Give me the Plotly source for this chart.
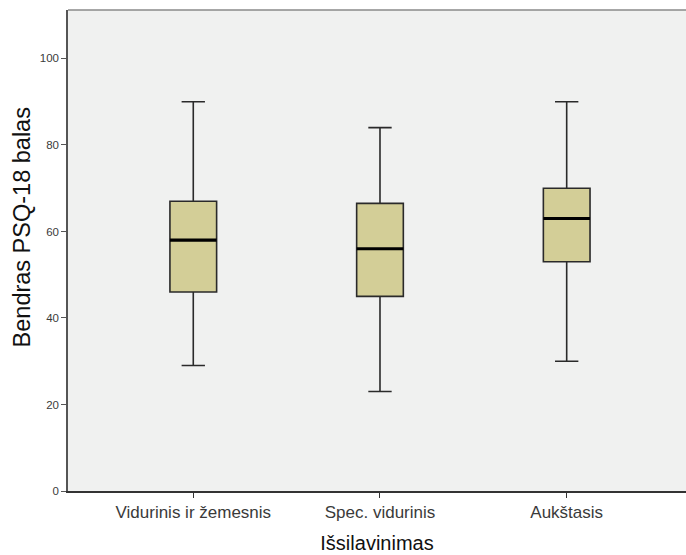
import plotly.graph_objects as go

# Boxplot of the overall PSQ-18 score by education level
categories = ["Vidurinis ir žemesnis", "Spec. vidurinis", "Aukštasis"]
lower_whisker = [29, 23, 30]
q1 = [46, 45, 53]
median = [58, 56, 63]
q3 = [67, 66.5, 70]
upper_whisker = [90, 84, 90]
y_ticks = [0, 20, 40, 60, 80, 100]

BOX_WIDTH = 0.25
FILL = "#D3CE97"
LINE = "#2a2a2a"
BG = "#F0F1F0"
FONT = "Liberation Sans, Arial, sans-serif"

fig = go.Figure()
xs = list(range(len(categories)))

for i, cat in enumerate(categories):
    fig.add_trace(go.Box(
        x=[xs[i]],
        q1=[q1[i]], median=[median[i]], q3=[q3[i]],
        lowerfence=[lower_whisker[i]], upperfence=[upper_whisker[i]],
        name=cat,
        width=BOX_WIDTH,
        whiskerwidth=0.5,
        fillcolor=FILL,
        line=dict(color=LINE, width=1.6),
        boxpoints=False,
        hoverinfo="skip",
        showlegend=False,
    ))
    # heavier median bar drawn on top of the box
    fig.add_trace(go.Scatter(
        x=[xs[i] - BOX_WIDTH / 2, xs[i] + BOX_WIDTH / 2],
        y=[median[i], median[i]],
        mode="lines",
        line=dict(color="#000000", width=3.2),
        hoverinfo="skip",
        showlegend=False,
    ))

fig.update_layout(
    width=686, height=555,
    margin=dict(l=68, r=0, t=10, b=64),
    paper_bgcolor="white",
    plot_bgcolor=BG,
    font=dict(family=FONT, color="#222"),
    showlegend=False,
    shapes=[dict(type="line", xref="paper", yref="paper", x0=0, x1=1, y0=1, y1=1,
                 line=dict(color="#8a8a8a", width=1.5))],
    annotations=[dict(
        text="Bendras PSQ-18 balas", textangle=-90,
        xref="paper", yref="paper", x=-0.0744, y=0.548,
        xanchor="center", yanchor="middle", showarrow=False,
        font=dict(size=23.5, color="#111"),
    )],
)

fig.update_xaxes(
    range=[-0.671, 2.639],
    tickvals=xs, ticktext=categories,
    ticks="outside", ticklen=5, tickcolor="#333", tickwidth=1.2,
    tickfont=dict(size=17, color="#3a3a3a"),
    showline=True, linecolor="#333", linewidth=1.5,
    showgrid=False, zeroline=False,
    title=dict(text="Išsilavinimas", font=dict(size=20, color="#111"), standoff=15),
)

fig.update_yaxes(
    range=[0, 111.2],
    tickvals=y_ticks,
    ticks="outside", ticklen=5, tickcolor="#555", tickwidth=1.2,
    tickfont=dict(size=11.5, color="#3a3a3a"),
    showline=True, linecolor="#555", linewidth=1.5,
    showgrid=False, zeroline=False,
)

fig.write_html("out.html")
